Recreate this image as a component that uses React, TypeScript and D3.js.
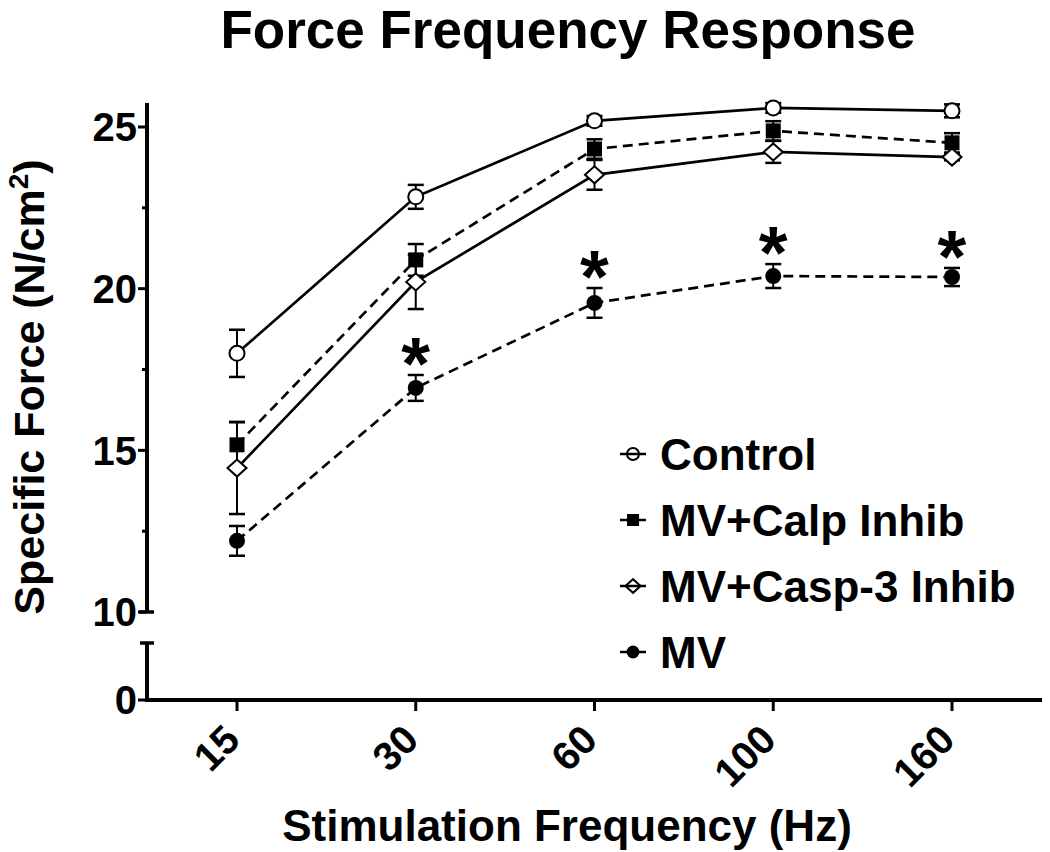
import React from 'react';
import * as d3 from 'd3';

const categories = ['15', '30', '60', '100', '160'];
const controlMean = [18.0, 22.84, 25.19, 25.59, 25.5];
const controlErr = [0.73, 0.37, 0.15, 0.15, 0.2];
const calpMean = [15.17, 20.89, 24.32, 24.88, 24.51];
const calpErr = [0.71, 0.49, 0.3, 0.3, 0.3];
const caspMean = [14.45, 20.21, 23.52, 24.23, 24.07];
const caspErr = [1.42, 0.84, 0.46, 0.34, 0.1];
const mvMean = [12.2, 16.93, 19.56, 20.39, 20.36];
const mvErr = [0.46, 0.4, 0.46, 0.37, 0.28];
const significant = [false, true, true, true, true];
const yMajorTicks = [10, 15, 20, 25];
const yMinorTicks = [12.5, 17.5, 22.5];
const legendLabels = ['Control', 'MV+Calp Inhib', 'MV+Casp-3 Inhib', 'MV'];

const FONT = '"Liberation Sans", Arial, Helvetica, sans-serif';

type Series = {
  name: string;
  mean: number[];
  err: number[];
  dashed: boolean;
  marker: 'openCircle' | 'square' | 'openDiamond' | 'circle';
};

const series: Series[] = [
  { name: legendLabels[0], mean: controlMean, err: controlErr, dashed: false, marker: 'openCircle' },
  { name: legendLabels[1], mean: calpMean, err: calpErr, dashed: true, marker: 'square' },
  { name: legendLabels[2], mean: caspMean, err: caspErr, dashed: false, marker: 'openDiamond' },
  { name: legendLabels[3], mean: mvMean, err: mvErr, dashed: true, marker: 'circle' },
];

function Marker({ type, x, y, s = 1, legend = false }: { type: string; x: number; y: number; s?: number; legend?: boolean }) {
  const sw = 2;
  if (type === 'openCircle') {
    return <circle cx={x} cy={y} r={7.5 * s} fill={legend ? 'none' : 'white'} stroke="black" strokeWidth={sw} />;
  }
  if (type === 'circle') {
    return <circle cx={x} cy={y} r={8 * s} fill="black" />;
  }
  if (type === 'square') {
    const h = 7.5 * s;
    return <rect x={x - h} y={y - h} width={2 * h} height={2 * h} fill="black" />;
  }
  const w = 9.5 * s;
  const hh = 8.5 * s;
  return (
    <path
      d={`M${x - w},${y}L${x},${y - hh}L${x + w},${y}L${x},${y + hh}Z`}
      fill={legend ? 'none' : 'white'}
      stroke="black"
      strokeWidth={sw}
    />
  );
}

export default function App() {
  const x = d3.scalePoint<string>().domain(categories).range([237, 952]).padding(0);
  const y = d3.scaleLinear().domain([10, 25]).range([612, 127]);
  const yLow = d3.scaleLinear().domain([0, 2]).range([700, 643]);

  const axisX = 147;
  const axisY = yLow(0);

  const line = d3
    .line<number>()
    .x((_, i) => x(categories[i]) as number)
    .y((d) => y(d));

  return (
    <div style={{ position: 'absolute', left: 0, top: 0 }}>
      <svg width={1050} height={852} style={{ display: 'block', background: 'white' }} fontFamily={FONT}>
        <rect x={0} y={0} width={1050} height={852} fill="white" />
        {/* Title */}
        <text x={568} y={48} fontSize={53} fontWeight="bold" textAnchor="middle">
          Force Frequency Response
        </text>

        {/* Y axis upper segment */}
        <line x1={axisX} x2={axisX} y1={103} y2={y(10)} stroke="black" strokeWidth={4} />
        <line x1={axisX - 8} x2={axisX + 7} y1={y(10)} y2={y(10)} stroke="black" strokeWidth={3.5} />
        {yMajorTicks.map((t) => (
          <g key={t}>
            <line x1={axisX - 9} x2={axisX} y1={y(t)} y2={y(t)} stroke="black" strokeWidth={3} />
            <text x={137} y={y(t)} dy="0.36em" fontSize={40} fontWeight="bold" textAnchor="end">
              {t}
            </text>
          </g>
        ))}
        {yMinorTicks.map((t) => (
          <line key={t} x1={axisX - 5} x2={axisX} y1={y(t)} y2={y(t)} stroke="black" strokeWidth={3} />
        ))}
        {/* Y axis lower segment */}
        <line x1={axisX} x2={axisX} y1={yLow(2)} y2={axisY} stroke="black" strokeWidth={4} />
        <line x1={axisX - 7} x2={axisX + 7} y1={yLow(2)} y2={yLow(2)} stroke="black" strokeWidth={3.5} />
        <line x1={axisX - 9} x2={axisX} y1={axisY} y2={axisY} stroke="black" strokeWidth={3} />
        <text x={137} y={axisY} dy="0.36em" fontSize={40} fontWeight="bold" textAnchor="end">
          0
        </text>

        {/* X axis */}
        <line x1={axisX - 2} x2={1042} y1={axisY} y2={axisY} stroke="black" strokeWidth={4} />
        {categories.map((c) => (
          <g key={c}>
            <line x1={x(c)} x2={x(c)} y1={axisY} y2={axisY + 11} stroke="black" strokeWidth={3} />
            <text
              transform={`translate(${(x(c) as number) + 5},${axisY + 42}) rotate(-45)`}
              fontSize={40}
              fontWeight="bold"
              textAnchor="end"
            >
              {c}
            </text>
          </g>
        ))}

        {/* Axis titles */}
        <text x={567} y={841} fontSize={44} fontWeight="bold" textAnchor="middle">
          Stimulation Frequency (Hz)
        </text>
        <text transform={`translate(44,387) rotate(-90)`} fontSize={43} fontWeight="bold" textAnchor="middle">
          Specific Force (N/cm
          <tspan fontSize={28} dy={-16}>2</tspan>
          <tspan dy={16}>)</tspan>
        </text>

        {/* Lines */}
        {series.map((s) => (
          <path
            key={s.name}
            d={line(s.mean) || ''}
            fill="none"
            stroke="black"
            strokeWidth={2.7}
            strokeDasharray={s.dashed ? '10,6' : undefined}
          />
        ))}

        {/* Error bars */}
        {series.map((s) =>
          s.mean.map((m, i) => {
            const cx = x(categories[i]) as number;
            const top = y(m + s.err[i]);
            const bot = y(m - s.err[i]);
            return (
              <g key={s.name + i}>
                <line x1={cx} x2={cx} y1={top} y2={bot} stroke="black" strokeWidth={2} />
                <line x1={cx - 8} x2={cx + 8} y1={top} y2={top} stroke="black" strokeWidth={2.5} />
                <line x1={cx - 8} x2={cx + 8} y1={bot} y2={bot} stroke="black" strokeWidth={2.5} />
              </g>
            );
          })
        )}

        {/* Markers */}
        {series.map((s) =>
          s.mean.map((m, i) => (
            <Marker key={s.name + 'm' + i} type={s.marker} x={x(categories[i]) as number} y={y(m)} />
          ))
        )}

        {/* Significance asterisks */}
        {significant.map((sig, i) =>
          sig ? (
            <text
              key={'ast' + i}
              x={x(categories[i]) as number}
              y={y(mvMean[i] + mvErr[i]) + 14}
              fontSize={74}
              fontWeight="bold"
              textAnchor="middle"
            >
              *
            </text>
          ) : null
        )}

        {/* Legend */}
        {series.map((s, i) => {
          const ly = 454 + i * 66;
          return (
            <g key={'leg' + i}>
              <line x1={620} x2={646} y1={ly} y2={ly} stroke="black" strokeWidth={2.5} />
              <Marker type={s.marker} x={633} y={ly} s={0.8} legend />
              <text x={660} y={ly} dy="0.36em" fontSize={44} fontWeight="bold">
                {s.name}
              </text>
            </g>
          );
        })}
      </svg>
    </div>
  );
}
